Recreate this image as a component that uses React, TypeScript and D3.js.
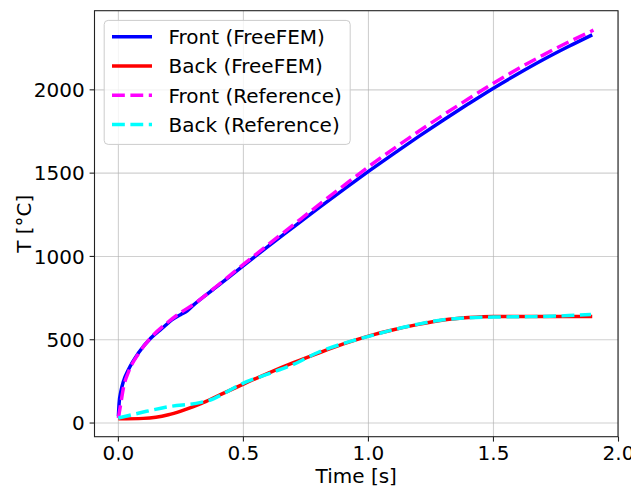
import React from 'react';
import * as d3 from 'd3';

const frontFreeTime = [0, 0.003, 0.01, 0.02, 0.04, 0.08, 0.13, 0.173, 0.22, 0.25, 0.27, 0.3, 0.4, 0.5, 0.6, 0.7, 0.8, 0.9, 1.0, 1.1, 1.2, 1.3, 1.4, 1.5, 1.6, 1.7, 1.8, 1.895];
const frontFreeTemp = [40, 120, 190, 250, 320, 420, 510, 566, 625, 652, 668, 708, 826, 945, 1062, 1176, 1290, 1401, 1510, 1616, 1719, 1819, 1916, 2010, 2098, 2182, 2260, 2330];

const backFreeTime = [0, 0.1, 0.15, 0.2, 0.25, 0.3, 0.33, 0.4, 0.5, 0.6, 0.7, 0.8, 0.9, 1.0, 1.1, 1.2, 1.3, 1.4, 1.5, 1.6, 1.7, 1.8, 1.895];
const backFreeTemp = [25, 28, 35, 50, 72, 98, 116, 165, 234, 300, 362, 420, 475, 522, 560, 592, 618, 633, 640, 640, 640, 640, 640];

const frontRefTime = [0, 0.01, 0.02, 0.04, 0.08, 0.13, 0.2, 0.25, 0.3, 0.4, 0.5, 0.6, 0.7, 0.8, 0.9, 1.0, 1.1, 1.2, 1.3, 1.4, 1.5, 1.6, 1.7, 1.8, 1.9];
const frontRefTemp = [30, 120, 210, 305, 415, 512, 608, 664, 712, 830, 952, 1072, 1190, 1308, 1424, 1538, 1646, 1750, 1850, 1946, 2040, 2128, 2210, 2287, 2358];

const backRefTime = [0, 0.1, 0.2, 0.33, 0.38, 0.4, 0.5, 0.6, 0.7, 0.8, 0.9, 1.0, 1.1, 1.2, 1.3, 1.4, 1.5, 1.6, 1.7, 1.8, 1.89];
const backRefTemp = [30, 66, 98, 124, 145, 160, 240, 295, 352, 425, 478, 520, 560, 594, 620, 632, 636, 638, 640, 645, 652];

const xTicks = [0, 0.5, 1.0, 1.5, 2.0];
const yTicks = [0, 500, 1000, 1500, 2000];

const seriesNames = ['Front (FreeFEM)', 'Back (FreeFEM)', 'Front (Reference)', 'Back (Reference)'];
const seriesColors = ['#0000ff', '#ff0000', '#ff00ff', '#00ffff'];
const seriesDashed = [false, false, true, true];

const W = 631;
const H = 487;
const L = 94.5;
const R = 618;
const T = 10.7;
const B = 436.7;
const FONT = 'DejaVu Sans, sans-serif';
const FS = 20;

export default function App() {
  const x = d3.scaleLinear().domain([-0.0955, 1.998]).range([L, R]);
  const y = d3.scaleLinear().domain([-82, 2475]).range([B, T]);

  const series = [
    { t: frontFreeTime, v: frontFreeTemp },
    { t: backFreeTime, v: backFreeTemp },
    { t: frontRefTime, v: frontRefTemp },
    { t: backRefTime, v: backRefTemp },
  ];

  const line = d3
    .line<[number, number]>()
    .x((d) => x(d[0]))
    .y((d) => y(d[1]))
    .curve(d3.curveMonotoneX);

  const lw = 3.47;
  const dash = `${3.7 * lw} ${1.6 * lw}`;

  const legX = 104.2;
  const legY = 20.4;
  const legW = 246;
  const legH = 124;
  const rowH = 29.3;

  return (
    <svg
      width={W}
      height={H}
      style={{ position: 'absolute', left: 0, top: 0, background: '#fff' }}
      fontFamily={FONT}
    >
      <rect x={0} y={0} width={W} height={H} fill="#fff" />
      <defs>
        <clipPath id="plotclip">
          <rect x={L} y={T} width={R - L} height={B - T} />
        </clipPath>
      </defs>
      {xTicks.map((t) => (
        <line key={'gx' + t} x1={x(t)} x2={x(t)} y1={T} y2={B} stroke="#b0b0b0" strokeOpacity={0.6} strokeWidth={1.1} />
      ))}
      {yTicks.map((t) => (
        <line key={'gy' + t} x1={L} x2={R} y1={y(t)} y2={y(t)} stroke="#b0b0b0" strokeOpacity={0.6} strokeWidth={1.1} />
      ))}
      <g clipPath="url(#plotclip)">
        {series.map((s, i) => (
          <path
            key={'s' + i}
            d={line(s.t.map((t, j) => [t, s.v[j]] as [number, number])) || ''}
            fill="none"
            stroke={seriesColors[i]}
            strokeWidth={lw}
            strokeDasharray={seriesDashed[i] ? dash : undefined}
          />
        ))}
      </g>
      <rect x={L} y={T} width={R - L} height={B - T} fill="none" stroke="#222" strokeWidth={1.1} />
      {xTicks.map((t) => (
        <g key={'xt' + t}>
          <line x1={x(t)} x2={x(t)} y1={B} y2={B + 4.9} stroke="#222" strokeWidth={1.1} />
          <text x={x(t)} y={B + 23} textAnchor="middle" fontSize={FS} fill="#000">
            {t.toFixed(1)}
          </text>
        </g>
      ))}
      {yTicks.map((t) => (
        <g key={'yt' + t}>
          <line x1={L - 4.9} x2={L} y1={y(t)} y2={y(t)} stroke="#222" strokeWidth={1.1} />
          <text x={L - 9.8} y={y(t)} dy="0.36em" textAnchor="end" fontSize={FS} fill="#000">
            {t}
          </text>
        </g>
      ))}
      <text x={(L + R) / 2} y={483} textAnchor="middle" fontSize={FS} fill="#000">
        Time [s]
      </text>
      <text
        transform={`translate(24, ${(T + B) / 2}) rotate(-90)`}
        textAnchor="middle"
        dy="0.36em"
        fontSize={FS}
        fill="#000"
      >
        T [°C]
      </text>
      <rect x={legX} y={legY} width={legW} height={legH} rx={4} ry={4} fill="#fff" fillOpacity={0.8} stroke="#cccccc" strokeWidth={1} />
      {seriesNames.map((name, i) => {
        const cy = legY + 16.3 + i * rowH;
        return (
          <g key={'lg' + i}>
            <line
              x1={112}
              x2={152}
              y1={cy}
              y2={cy}
              stroke={seriesColors[i]}
              strokeWidth={lw}
              strokeDasharray={seriesDashed[i] ? dash : undefined}
            />
            <text x={168.5} y={cy} dy="0.36em" fontSize={FS} fill="#000">
              {name}
            </text>
          </g>
        );
      })}
    </svg>
  );
}
